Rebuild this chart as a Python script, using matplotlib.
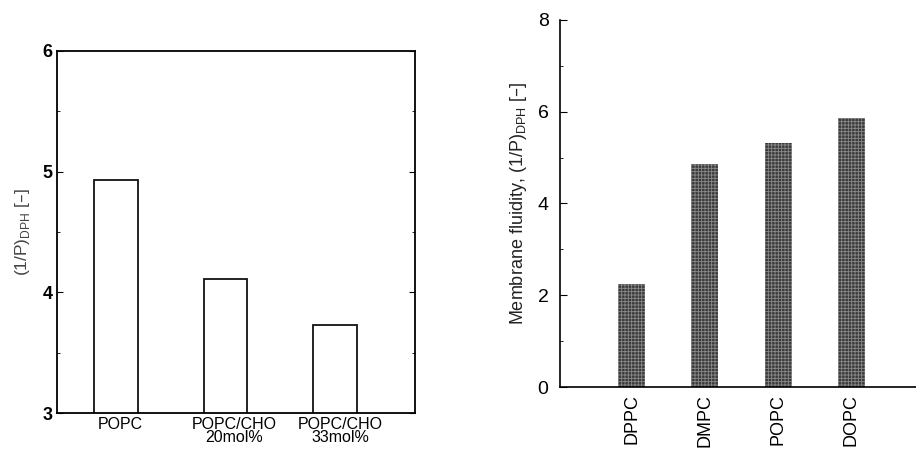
import numpy as np
import matplotlib.pyplot as plt
from matplotlib.ticker import MultipleLocator

plt.rcParams['font.family'] = ['Liberation Sans', 'DejaVu Sans']
plt.rcParams['hatch.linewidth'] = 0.6

# left panel: POPC with cholesterol
chol_labels = ['POPC', 'POPC/CHO\n20mol%', 'POPC/CHO\n33mol%']
chol_values = [4.93, 4.11, 3.73]

# right panel: different lipids
lipid_labels = ['DPPC', 'DMPC', 'POPC', 'DOPC']
lipid_values = [2.25, 4.86, 5.32, 5.86]

fig = plt.figure(figsize=(9.16, 4.5), dpi=100)

ax1 = fig.add_axes([0.062, 0.082, 0.391, 0.805])
x1 = np.arange(len(chol_values))
ax1.bar(x1, chol_values, width=0.4, bottom=0, facecolor='white',
        edgecolor='#111111', linewidth=1.3)
ax1.set_ylim(3, 6)
ax1.set_xlim(-0.54, 2.73)
ax1.set_yticks([3, 4, 5, 6])
ax1.yaxis.set_minor_locator(MultipleLocator(0.5))
ax1.tick_params(axis='y', which='both', direction='in', left=True, right=True,
                labelsize=13, pad=3)
ax1.tick_params(axis='y', which='major', length=4)
ax1.tick_params(axis='y', which='minor', length=2.5)
ax1.set_xticks(x1 + np.array([0.04, 0.08, 0.05]))
ax1.set_xticklabels(chol_labels, fontsize=11.5, linespacing=0.85)
ax1.tick_params(axis='x', length=0, pad=3)
for lbl in ax1.get_yticklabels():
    lbl.set_fontweight('bold')
for s in ax1.spines.values():
    s.set_linewidth(1.3)
ax1.set_ylabel('(1/P)$_\\mathregular{DPH}$ [\u2013]', fontsize=12.5, color='#444444',
               labelpad=8)

ax2 = fig.add_axes([0.611, 0.14, 0.389, 0.816])
x2 = np.arange(len(lipid_values))
ax2.bar(x2, lipid_values, width=0.37, facecolor='#3a3a3a', edgecolor='#8a8a8a',
        hatch='+++++', linewidth=0)
ax2.set_ylim(0, 8)
ax2.set_xlim(-0.98, 3.88)
ax2.set_yticks([0, 2, 4, 6, 8])
ax2.yaxis.set_minor_locator(MultipleLocator(1))
ax2.tick_params(axis='y', which='both', direction='in', labelsize=14, pad=8)
ax2.tick_params(axis='y', which='major', length=5)
ax2.tick_params(axis='y', which='minor', length=2.5)
ax2.set_xticks(x2)
ax2.set_xticklabels(lipid_labels, rotation=90, fontsize=13)
ax2.tick_params(axis='x', length=0, pad=5)
ax2.spines['top'].set_visible(False)
ax2.spines['right'].set_visible(False)
ax2.spines['left'].set_linewidth(1.2)
ax2.spines['bottom'].set_linewidth(1.2)
ax2.set_ylabel('Membrane fluidity, (1/P)$_\\mathregular{DPH}$ [\u2013]', fontsize=13,
               color='#222222', labelpad=6)

fig.savefig('out.png', dpi=100)
